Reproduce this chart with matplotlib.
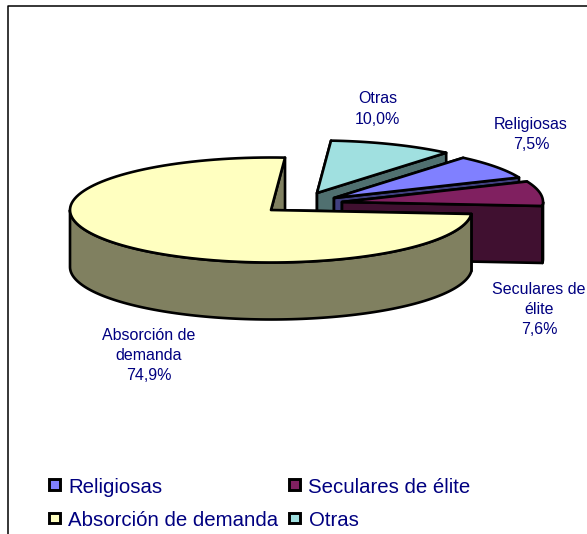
"""Exploded 3D-style pie of institution types, drawn with plain polygons."""
import matplotlib
matplotlib.use("Agg")
import matplotlib.pyplot as plt
from matplotlib.patches import Polygon, Rectangle
import numpy as np

plt.rcParams["font.family"] = ["Liberation Sans", "DejaVu Sans"]

categories = ["Religiosas", "Seculares de élite", "Absorción de demanda", "Otras"]
shares = [7.5, 7.6, 74.9, 10.0]
slice_labels = ["Religiosas\n7,5%", "Seculares de\nélite\n7,6%",
                "Absorción de\ndemanda\n74,9%", "Otras\n10,0%"]

top_colors = ["#8080FF", "#802060", "#FFFFC0", "#A0E0E0"]
side_colors = ["#404080", "#401030", "#808060", "#507070"]
centers = [(334, 198), (342, 202), (271, 210), (317, 193)]
label_pos = [(531, 134.5), (539, 309.5), (149, 355.5), (377.5, 109)]
draw_order = [3, 0, 1, 2]

RX, RY, DEPTH = 201, 52.5, 57
FIRST_ANGLE = 40.0
LINE_W = 1.9
NAVY = "#000080"


def rim(center, a0, a1):
    """Points on the ellipse, angles in degrees clockwise from the top."""
    t = np.radians(np.linspace(a0, a1, 120))
    return np.column_stack([center[0] + RX * np.sin(t), center[1] - RY * np.cos(t)])


def draw_slice(ax, center, a0, a1, top, side):
    down = np.array([0, DEPTH])
    c = np.array(center, dtype=float)
    for ang in (a0, a1):
        p = rim(center, ang, ang)[0]
        wall = np.array([c, p, p + down, c + down])
        ax.add_patch(Polygon(wall, fc=side, ec="black", lw=LINE_W, joinstyle="round"))
    # only the front half of the outer wall can be seen
    lo, hi = max(a0, 90), min(a1, 270)
    if hi > lo:
        arc = rim(center, lo, hi)
        ax.add_patch(Polygon(np.vstack([arc, arc[::-1] + down]), fc=side, ec="black",
                             lw=LINE_W, joinstyle="round"))
    face = np.vstack([c, rim(center, a0, a1)])
    ax.add_patch(Polygon(face, fc=top, ec="black", lw=LINE_W, joinstyle="round"))


fig = plt.figure(figsize=(5.87, 5.34), dpi=100)
ax = fig.add_axes([0, 0, 1, 1])
ax.set_xlim(0, 587)
ax.set_ylim(534, 0)
ax.axis("off")

# chart frame, runs off the picture at the bottom and on the right
ax.plot([7.5, 7.5, 587], [534, 5.5, 5.5], color="black", lw=1.1)

spans = np.cumsum([0] + [s * 3.6 for s in shares]) + FIRST_ANGLE
for i in draw_order:
    draw_slice(ax, centers[i], spans[i], spans[i + 1], top_colors[i], side_colors[i])

for text, (x, y) in zip(slice_labels, label_pos):
    ax.text(x, y, text, color=NAVY, fontsize=11.5, ha="center", va="center", linespacing=1.43)

legend_x = [49, 289, 49, 289]
legend_y = [484, 484, 517.5, 517.5]
for i, name in enumerate(categories):
    ax.add_patch(Rectangle((legend_x[i], legend_y[i] - 5), 10.5, 10.5, fc=top_colors[i],
                           ec="black", lw=2.1))
    ax.text(legend_x[i] + 19.5, legend_y[i] + 3.5, name, color=NAVY, fontsize=14.7,
            ha="left", va="center")

fig.savefig("out.png", dpi=100)
